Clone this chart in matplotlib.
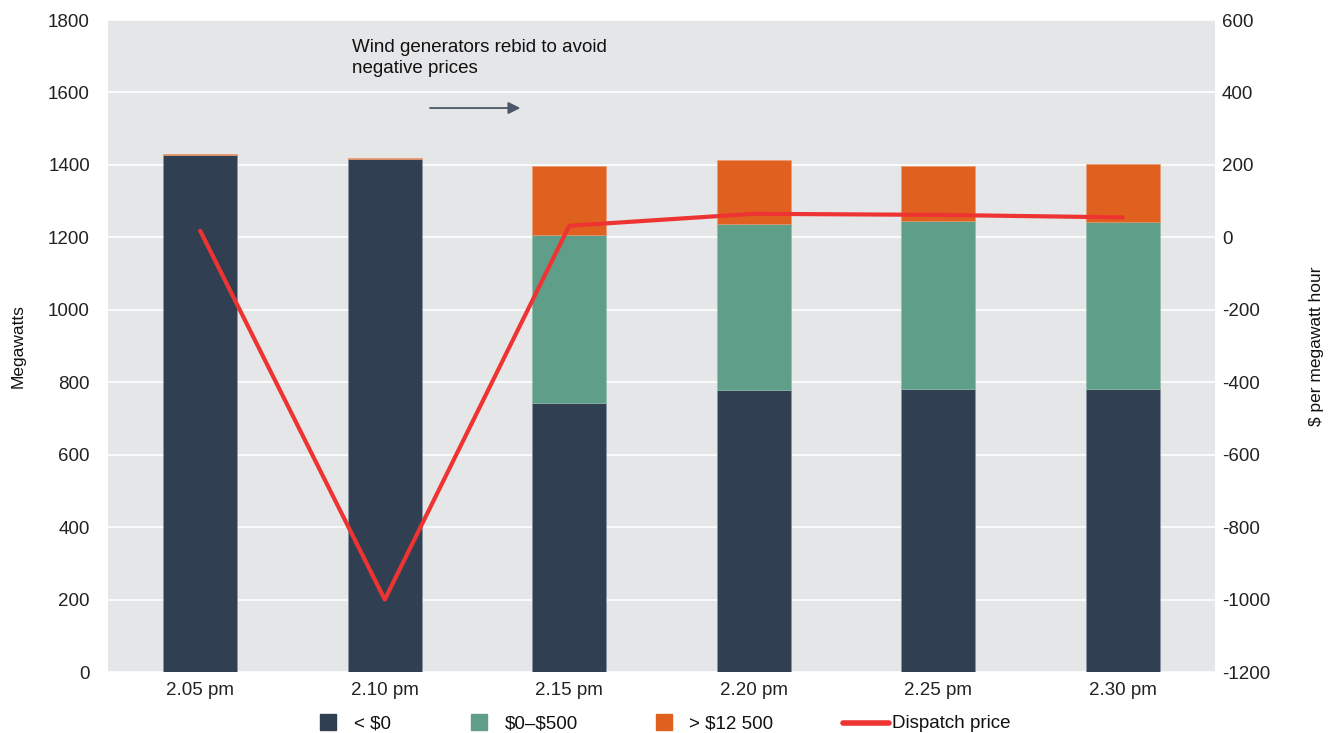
import matplotlib
matplotlib.use("Agg")
import matplotlib.pyplot as plt
import numpy as np
from matplotlib.lines import Line2D
from matplotlib.patches import Rectangle

plt.rcParams['font.family'] = ['Liberation Sans', 'DejaVu Sans']
plt.rcParams['axes.unicode_minus'] = False

times = ["2.05 pm", "2.10 pm", "2.15 pm", "2.20 pm", "2.25 pm", "2.30 pm"]
below_zero = [1426, 1416, 743, 778, 782, 780]
zero_to_500 = [0, 0, 463, 460, 464, 462]
above_12500 = [4, 4, 192, 175, 150, 160]
dispatch_price = [18, -1000, 32, 65, 62, 55]
legend_labels = ["< \\$0", "\\$0–\\$500", "> \\$12 500", "Dispatch price"]

c_dark = "#303f52"
c_green = "#5f9e88"
c_orange = "#e0611f"
c_red = "#ee3432"
bg = "#e5e6e8"
fs = 13.5
W, H = 1328, 733

fig = plt.figure(figsize=(W / 100, H / 100), dpi=100)
ax = fig.add_axes([0.0813, 0.0832, 0.8337, 0.8895])
ax.set_facecolor(bg)
x = np.arange(len(times))
w = 0.4
b1 = np.array(below_zero)
b2 = np.array(zero_to_500)
b3 = np.array(above_12500)
ax.bar(x, b1, w, color=c_dark, zorder=2, edgecolor="#8a96a6", linewidth=0.4)
ax.bar(x, b2, w, bottom=b1, color=c_green, zorder=2, edgecolor="#8fbcaa", linewidth=0.4)
ax.bar(x, b3, w, bottom=b1 + b2, color=c_orange, zorder=2, edgecolor="#eb9a70", linewidth=0.4)

ax.set_ylim(0, 1800)
ax.set_xlim(-0.5, len(times) - 0.5)
ax.set_yticks(np.arange(0, 1801, 200))
ax.yaxis.grid(True, color="white", linewidth=1.2, zorder=1)
ax.set_axisbelow(True)
ax.set_xticks(x)
ax.set_xticklabels(times)
ax.tick_params(axis='y', length=0, labelsize=fs, colors="#222222", pad=13)
ax.tick_params(axis='x', length=0, labelsize=fs, colors="#222222", pad=7)
for s in ax.spines.values():
    s.set_visible(False)
ax.set_ylabel("Megawatts", fontsize=12.5, labelpad=16, color="#111111")

ax2 = ax.twinx()
ax2.set_ylim(-1200, 600)
ax2.set_yticks(np.arange(-1200, 601, 200))
ax2.plot(x, dispatch_price, color=c_red, linewidth=3, zorder=5, solid_capstyle='round')
ax2.tick_params(axis='y', length=0, labelsize=fs, colors="#222222", pad=5)
for s in ax2.spines.values():
    s.set_visible(False)
ax2.set_ylabel("$ per megawatt hour", fontsize=12.5, rotation=90, labelpad=28, color="#111111")

ax.text(0.82, 1748, "Wind generators rebid to avoid\nnegative prices", fontsize=fs,
        va="top", ha="left", color="#111111", linespacing=1.3)
ax.annotate("", xy=(1.75, 1557), xytext=(1.23, 1557),
            arrowprops=dict(arrowstyle="-|>", color="#4b5668", lw=1.3, mutation_scale=18))

# manual legend (figure pixel positions)
def fx(px):
    return px / W

def fy(py):
    return 1 - py / H

sq = 16
for px, col in zip([320, 471, 656], [c_dark, c_green, c_orange]):
    fig.patches.append(Rectangle((fx(px), fy(730)), sq / W, sq / H, color=col,
                                 transform=fig.transFigure, figure=fig))
fig.add_artist(Line2D([fx(843), fx(889)], [fy(722.5), fy(722.5)], color=c_red, lw=4,
                      solid_capstyle='round', transform=fig.transFigure))
for px, lab in zip([354, 505, 689, 892], legend_labels):
    fig.text(fx(px), fy(722), lab, fontsize=fs, ha="left", va="center_baseline", color="#111111")

fig.savefig("out.png", dpi=100, facecolor="white")
